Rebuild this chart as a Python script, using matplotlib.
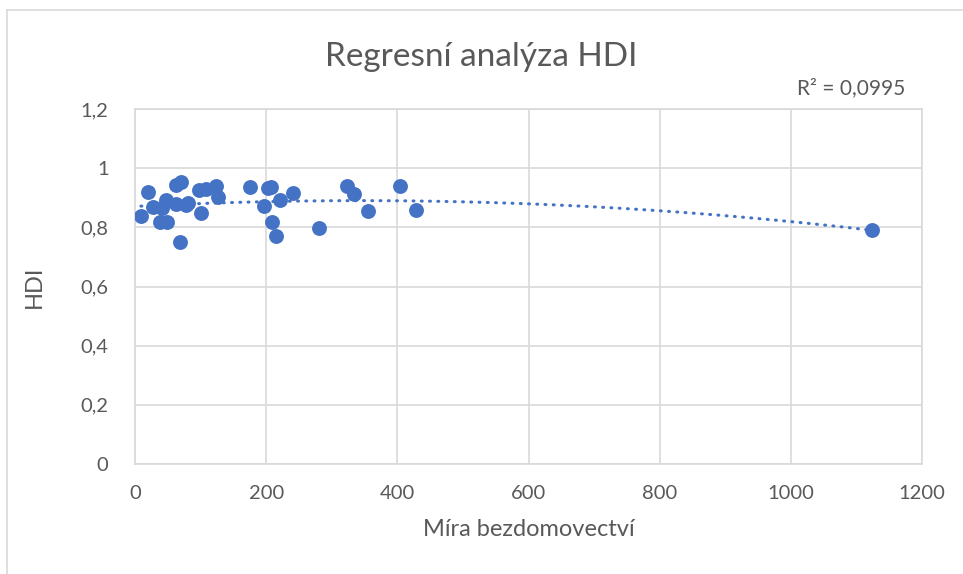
import numpy as np
import matplotlib.pyplot as plt
from matplotlib.lines import Line2D

# homelessness rate vs HDI
mira = [9, 20, 27, 38, 41, 47, 49, 63, 70, 69, 63, 78, 81, 98, 108, 101,
        124, 127, 175, 197, 203, 207, 209, 215, 221, 241, 280, 323, 334,
        355, 404, 428, 1124]
hdi = [0.838, 0.920, 0.869, 0.818, 0.865, 0.893, 0.818, 0.943, 0.952, 0.752,
       0.879, 0.876, 0.882, 0.926, 0.930, 0.847, 0.940, 0.903, 0.936, 0.872,
       0.933, 0.936, 0.818, 0.771, 0.893, 0.916, 0.798, 0.940, 0.911,
       0.855, 0.940, 0.859, 0.791]

x_ticks = [0, 200, 400, 600, 800, 1000, 1200]
y_ticks = [0, 0.2, 0.4, 0.6, 0.8, 1.0, 1.2]
y_labels = ["0", "0,2", "0,4", "0,6", "0,8", "1", "1,2"]

blue = "#4472C4"
grey = "#595959"
plt.rcParams["font.family"] = ["Lato", "DejaVu Sans"]

fig = plt.figure(figsize=(9.63, 5.74), dpi=100)
ax = fig.add_axes([135 / 963, 1 - 464 / 574, 787 / 963, 355 / 574])

# outer chart frame (left and top edges visible)
fig.add_artist(Line2D([7 / 963, 7 / 963], [0, 1 - 10 / 574], color="#d9d9d9", lw=1.2))
fig.add_artist(Line2D([7 / 963, 1], [1 - 10 / 574, 1 - 10 / 574], color="#d9d9d9", lw=1.2))

ax.scatter(mira, hdi, s=115, color=blue, zorder=3, linewidths=0)

# polynomial (order 2) trendline
coef = np.polyfit(mira, hdi, 2)
xs = np.linspace(min(mira), max(mira), 300)
ax.plot(xs, np.polyval(coef, xs), color=blue, lw=2.2,
        linestyle=(0, (0.3, 2.4)), dash_capstyle="round", zorder=2)

ax.set_xlim(0, 1200)
ax.set_ylim(0, 1.2)
ax.set_xticks(x_ticks)
ax.set_yticks(y_ticks)
ax.set_yticklabels(y_labels)
ax.grid(True, color="#d9d9d9", lw=1.2)
ax.set_axisbelow(True)
for s in ax.spines.values():
    s.set_color("#d9d9d9")
    s.set_linewidth(1.2)
ax.tick_params(length=0, colors=grey, labelsize=14.5)
ax.tick_params(axis="x", pad=15)
ax.tick_params(axis="y", pad=19)

ax.set_xlabel("Míra bezdomovectví", color=grey, fontsize=17, labelpad=12)
ax.set_ylabel("HDI", color=grey, fontsize=17, labelpad=26)
fig.text(0.5, 1 - 57 / 574, "Regresní analýza HDI", ha="center", va="center",
         color=grey, fontsize=24)
fig.text(905 / 963, 1 - 88 / 574, "R² = 0,0995", ha="right", va="center",
         color=grey, fontsize=15)

fig.savefig("out.png", dpi=100)
